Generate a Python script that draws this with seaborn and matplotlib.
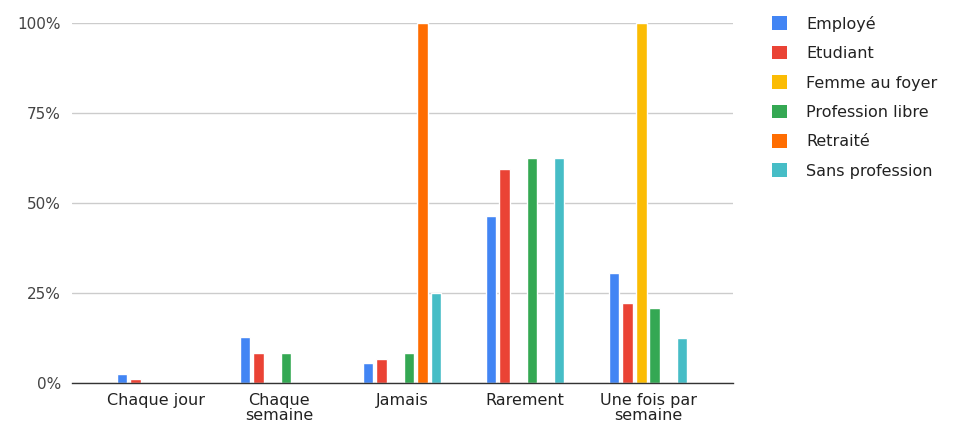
import matplotlib
matplotlib.use("Agg")
import matplotlib.pyplot as plt
import seaborn as sns
import pandas as pd
from matplotlib.ticker import FuncFormatter
from matplotlib.patches import Patch

# Frequency categories (x axis) and profession groups (series)
categories = ["Chaque jour", "Chaque\nsemaine", "Jamais", "Rarement", "Une fois par\nsemaine"]
professions = ["Employé", "Etudiant", "Femme au foyer", "Profession libre", "Retraité", "Sans profession"]

# Share of each profession per frequency, in percent
employe = [2.6, 12.8, 5.6, 46.5, 30.5]
etudiant = [1.2, 8.3, 6.6, 59.5, 22.3]
femme_au_foyer = [0, 0, 0, 0, 100]
profession_libre = [0, 8.3, 8.3, 62.5, 20.8]
retraite = [0, 0, 100, 0, 0]
sans_profession = [0, 0, 25, 62.5, 12.5]

colors = ["#4285F4", "#EA4335", "#FBBC04", "#34A853", "#FF6D01", "#46BDC6"]

series = [employe, etudiant, femme_au_foyer, profession_libre, retraite, sans_profession]
rows = []
for prof, vals in zip(professions, series):
    for cat, v in zip(categories, vals):
        rows.append({"Fréquence": cat, "Profession": prof, "Part": v})
df = pd.DataFrame(rows)

sns.set_theme(style="white")
plt.rcParams["font.family"] = ["DejaVu Sans"]

fig = plt.figure(figsize=(9.58, 4.24), dpi=100)
ax = fig.add_axes([0.0752, 0.0967, 0.6898, 0.8491])

sns.barplot(data=df, x="Fréquence", y="Part", hue="Profession",
            order=categories, hue_order=professions, palette=colors,
            width=0.66, gap=0.22, saturation=1, errorbar=None,
            legend=False, ax=ax)

ax.set_xlim(-0.683, 4.69)
ax.set_ylim(0, 100)
ax.set_yticks([0, 25, 50, 75, 100])
ax.yaxis.set_major_formatter(FuncFormatter(lambda v, p: f"{int(v)}%"))
ax.grid(axis="y", color="#cccccc", linewidth=1)
ax.set_axisbelow(True)
for side in ["top", "right", "left"]:
    ax.spines[side].set_visible(False)
ax.spines["bottom"].set_color("#333333")
ax.spines["bottom"].set_linewidth(1)
ax.set_xlabel("")
ax.set_ylabel("")
ax.tick_params(axis="y", length=0, pad=8, labelsize=11, labelcolor="#444444")
ax.tick_params(axis="x", length=0, pad=7, labelsize=11.5, labelcolor="#222222")
for t in ax.get_xticklabels():
    t.set_linespacing(1.05)

handles = [Patch(facecolor=c, edgecolor="none") for c in colors]
fig.legend(handles, professions, loc="upper left", bbox_to_anchor=(0.791, 0.997),
           frameon=False, fontsize=11.5, handlelength=0.95, handleheight=0.95,
           handletextpad=1.2, labelspacing=0.88, labelcolor="#222222")

fig.savefig("out.png", dpi=100)
